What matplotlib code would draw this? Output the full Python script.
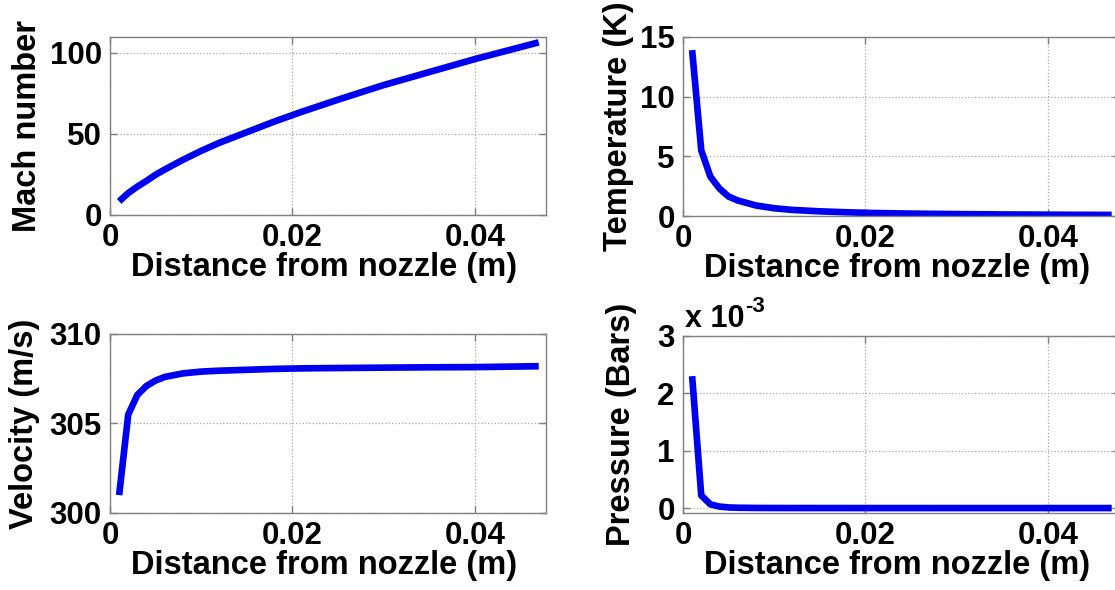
import numpy as np
import matplotlib
matplotlib.use('Agg')
import matplotlib.pyplot as plt
from matplotlib.ticker import FormatStrFormatter

plt.rcParams['font.family'] = ['Liberation Sans', 'DejaVu Sans']
plt.rcParams['font.weight'] = 'bold'
plt.rcParams['font.size'] = 22

# distance from nozzle (m)
distance = [0.001, 0.002, 0.003, 0.004, 0.005, 0.006, 0.008, 0.010, 0.012,
            0.015, 0.018, 0.021, 0.025, 0.030, 0.035, 0.040, 0.047]
mach = [8.4, 13.5, 17.5, 21.0, 24.8, 28.0, 34.0, 39.5, 44.5,
        51.0, 57.5, 63.5, 71.0, 80.0, 88.0, 96.0, 106.3]
temperature = [13.9, 5.5, 3.3, 2.3, 1.63, 1.30, 0.88, 0.65, 0.51,
               0.39, 0.31, 0.25, 0.20, 0.16, 0.13, 0.11, 0.09]
velocity = [301.0, 305.5, 306.6, 307.1, 307.4, 307.6, 307.8, 307.9, 307.95,
            308.0, 308.05, 308.08, 308.1, 308.12, 308.14, 308.15, 308.2]
pressure = [2.3e-3, 0.22e-3, 0.065e-3, 0.026e-3, 0.011e-3, 0.006e-3, 0.002e-3,
            0.001e-3, 0.0005e-3, 0.0003e-3, 0.0002e-3, 0.0001e-3, 0.0001e-3,
            0.0, 0.0, 0.0, 0.0]

x_ticks = [0, 0.02, 0.04]
x_tick_labels = ['0', '0.02', '0.04']
x_label = 'Distance from nozzle (m)'

W, H = 1115, 590
fig = plt.figure(figsize=(W / 100, H / 100), dpi=100)


def make_axes(left, right, top, bottom):
    return fig.add_axes([left / W, 1 - bottom / H, (right - left) / W, (bottom - top) / H])


def style(ax, yticks, ylim, ylabel, ylab_x):
    ax.set_xlim(0, 0.0478)
    ax.set_ylim(*ylim)
    ax.set_xticks(x_ticks)
    ax.set_xticklabels(x_tick_labels)
    ax.set_yticks(yticks)
    ax.yaxis.set_major_formatter(FormatStrFormatter('%g'))
    ax.grid(True, linestyle=':', color='#a8a8a8', linewidth=0.9)
    for s in ax.spines.values():
        s.set_color('#808080')
        s.set_linewidth(1.0)
    ax.tick_params(direction='in', length=5, width=1, color='#808080',
                   top=True, right=True, pad=6, labelsize=22.5)
    ax.set_xlabel(x_label, fontsize=23.5, fontweight='bold', va='center')
    ax.xaxis.set_label_coords(0.49, -0.295)
    ax.set_ylabel(ylabel, fontsize=23.5, fontweight='bold', va='center')
    ax.yaxis.set_label_coords(ylab_x, 0.5)


line_kw = dict(color='#0000f0', linewidth=4.8, solid_capstyle='butt')

ax1 = make_axes(110, 546, 37, 215)
ax1.plot(distance, mach, **line_kw)
style(ax1, [0, 50, 100], (0, 109.6), 'Mach number', -0.19)

ax2 = make_axes(683, 1119, 37, 216)
ax2.plot(distance, temperature, **line_kw)
style(ax2, [0, 5, 10, 15], (0, 15), 'Temperature (K)', -0.147)

ax3 = make_axes(110, 546, 334, 513)
ax3.plot(distance, velocity, **line_kw)
style(ax3, [300, 305, 310], (300, 310), 'Velocity (m/s)', -0.195)

ax4 = make_axes(683, 1119, 336, 513)
ax4.plot(distance, np.array(pressure) * 1e3, **line_kw)
style(ax4, [0, 1, 2, 3], (-0.086, 3), 'Pressure (Bars)', -0.142)
# MATLAB-style exponent label above the axis
base = ax4.text(0.005, 1.051, 'x 10', transform=ax4.transAxes, fontsize=22,
                fontweight='bold', va='baseline', ha='left')
ax4.annotate('-3', xy=(1.0, 0.55), xycoords=base, fontsize=16,
             fontweight='bold', va='bottom', ha='left')

fig.savefig('out.png', dpi=100)
